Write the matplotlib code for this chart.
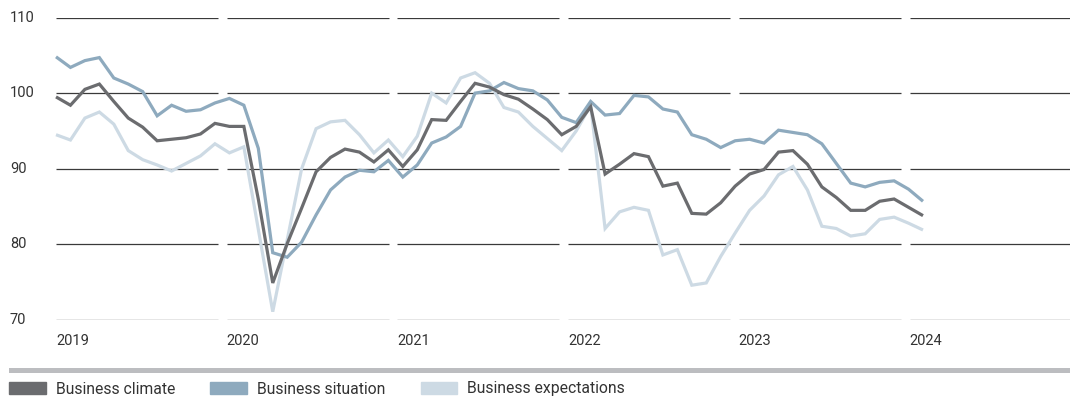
import numpy as np
import matplotlib.pyplot as plt
import matplotlib.transforms as mtrans
from matplotlib.patches import Patch, Rectangle

plt.rcParams['font.family'] = ['Roboto', 'DejaVu Sans']

# monthly index values, Jan 2019 - Jan 2024
climate = [99.5, 98.4, 100.5, 101.2, 98.9, 96.7, 95.5, 93.7, 93.9, 94.1, 94.6, 96.0,
           95.6, 95.6, 86.0, 74.9, 80.1, 84.8, 89.6, 91.5, 92.6, 92.2, 90.9, 92.5,
           90.3, 92.5, 96.5, 96.4, 98.9, 101.3, 100.8, 99.8, 99.2, 97.9, 96.5, 94.5,
           95.6, 98.2, 89.3, 90.6, 92.0, 91.6, 87.7, 88.1, 84.1, 84.0, 85.5, 87.7,
           89.3, 89.9, 92.2, 92.4, 90.6, 87.6, 86.2, 84.5, 84.5, 85.7, 86.0, 84.9,
           83.8]
situation = [104.8, 103.4, 104.3, 104.7, 102.0, 101.2, 100.2, 97.0, 98.4, 97.6, 97.8, 98.7,
             99.3, 98.4, 92.7, 78.9, 78.3, 80.3, 83.9, 87.2, 88.9, 89.8, 89.6, 91.1,
             88.9, 90.5, 93.4, 94.2, 95.6, 100.0, 100.3, 101.4, 100.6, 100.3, 99.1, 96.8,
             96.1, 98.9, 97.1, 97.3, 99.7, 99.5, 97.9, 97.5, 94.5, 93.9, 92.8, 93.7,
             93.9, 93.4, 95.1, 94.8, 94.5, 93.3, 90.7, 88.1, 87.6, 88.2, 88.4, 87.3,
             85.7]
expectations = [94.5, 93.8, 96.7, 97.5, 95.9, 92.4, 91.2, 90.5, 89.7, 90.7, 91.7, 93.3,
                92.1, 92.9, 82.0, 71.1, 80.6, 90.0, 95.3, 96.2, 96.4, 94.5, 92.1, 93.8,
                91.6, 94.3, 100.0, 98.7, 102.0, 102.7, 101.3, 98.1, 97.5, 95.6, 94.0, 92.4,
                95.0, 98.4, 82.1, 84.3, 84.9, 84.5, 78.6, 79.3, 74.6, 74.9, 78.4, 81.5,
                84.5, 86.4, 89.2, 90.3, 87.2, 82.4, 82.1, 81.1, 81.4, 83.3, 83.6, 82.8,
                81.9]
years = ['2019', '2020', '2021', '2022', '2023', '2024']
yticks = [70, 80, 90, 100, 110]
labels = ['Business climate', 'Business situation', 'Business expectations']

colors = ['#6b6c6f', '#8eaabe', '#cddae4']
text_col = '#333333'

W, H = 1070, 398
fig = plt.figure(figsize=(W / 100, H / 100), dpi=100)
x0, y_top, y_bot = 56, 17.5, 320
ax = fig.add_axes([x0 / W, 1 - y_bot / H, 1 - x0 / W, (y_bot - y_top) / H])

step = 14.45          # px per month
year_len = 170.7 / step
seg_len = 162 / step
xmax = (W - x0) / step
ax.set_xlim(0, xmax)
ax.set_ylim(70, 110)
ax.axis('off')

# grid broken into one segment per year
for k in range(len(years)):
    start = k * year_len
    end = xmax if k == len(years) - 1 else start + seg_len
    ax.hlines(yticks, start, end, colors='#3a3a3a', linewidth=0.9, zorder=0)
    ax.text(start, -0.07, years[k], transform=ax.get_xaxis_transform(),
            ha='left', va='center', fontsize=10.5, color=text_col)

trans = mtrans.blended_transform_factory(fig.transFigure, ax.transData)
for v in yticks:
    ax.text(10 / W, v, str(v), transform=trans, fontsize=10.5,
            color=text_col, va='center', ha='left')

x = np.arange(len(climate))
series = [climate, situation, expectations]
for s, c, z in zip(series, colors, [3, 2, 1]):
    ax.plot(x, s, color=c, linewidth=2.3, zorder=z, solid_joinstyle='miter',
            solid_capstyle='butt', clip_on=False)

# separator bar above the legend
fig.add_artist(Rectangle((9 / W, 1 - 372.5 / H), 1, 5 / H,
                         transform=fig.transFigure, color='#bcbdc0', lw=0))

handles = [Patch(color=c) for c in colors]
fig.legend(handles, labels, loc='center left', bbox_to_anchor=(9 / W, 1 - 389 / H),
           ncol=3, frameon=False, fontsize=11.3, handlelength=2.35, handleheight=0.75,
           handletextpad=0.62, columnspacing=2.25, borderpad=0, borderaxespad=0,
           labelcolor=text_col)

fig.savefig('out.png', dpi=100)
